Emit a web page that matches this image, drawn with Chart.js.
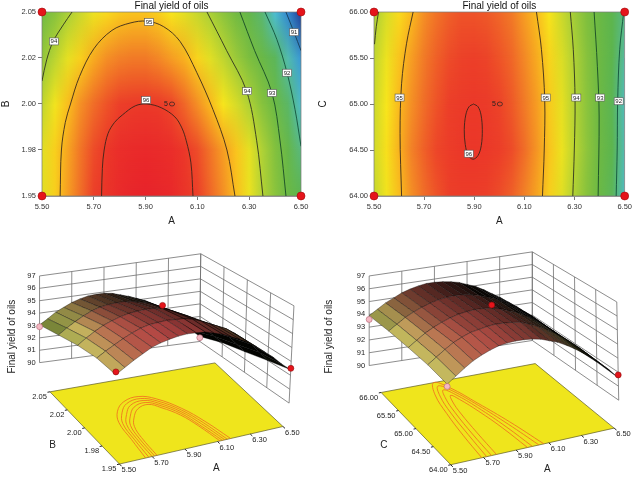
<!DOCTYPE html>
<html>
<head>
<meta charset="utf-8">
<title>Final yield of oils</title>
<script src="https://cdn.jsdelivr.net/npm/chart.js@4.4.1/dist/chart.umd.min.js"></script>
<style>
  html, body { margin: 0; padding: 0; background: #fff; }
  #fig { position: relative; width: 634px; height: 478px; overflow: hidden; }
  #fig canvas { position: absolute; }
</style>
</head>
<body>
<div id="fig">
  <canvas id="contour-ab" width="317" height="228" style="left:0;top:0"></canvas>
  <canvas id="contour-ac" width="317" height="228" style="left:317px;top:0"></canvas>
  <canvas id="surface-ab" width="317" height="250" style="left:0;top:228px"></canvas>
  <canvas id="surface-ac" width="317" height="250" style="left:317px;top:228px"></canvas>
</div>
<script>
const FONT = '"Liberation Sans", Arial, Helvetica, sans-serif';
const TITLE = 'Final yield of oils';

// factor levels
const A_VALUES = [5.50, 5.55, 5.60, 5.65, 5.70, 5.75, 5.80, 5.85, 5.90, 5.95, 6.00,
                  6.05, 6.10, 6.15, 6.20, 6.25, 6.30, 6.35, 6.40, 6.45, 6.50];
const A_TICKS = [5.5, 5.7, 5.9, 6.1, 6.3, 6.5];
const A_TICK_LABELS = ['5.50', '5.70', '5.90', '6.10', '6.30', '6.50'];
const B_VALUES = [1.95, 1.975, 2.0, 2.025, 2.05];
const B_TICK_LABELS = ['1.95', '1.98', '2.00', '2.02', '2.05'];
const C_VALUES = [64.0, 64.5, 65.0, 65.5, 66.0];
const C_TICK_LABELS = ['64.00', '64.50', '65.00', '65.50', '66.00'];
const Z_TICKS = [90, 91, 92, 93, 94, 95, 96, 97];

// predicted yield, one row per B level
const YIELD_AB = [
  [94.4, 94.8, 95.2, 95.55, 95.9, 96.1, 96.25, 96.35, 96.4, 96.35, 96.3, 96.1, 95.9, 95.6, 95.3, 94.95, 94.5, 94.0, 93.5, 92.9, 92.4],
  [94.4, 94.8, 95.15, 95.5, 95.8, 96.05, 96.2, 96.25, 96.3, 96.25, 96.2, 96.05, 95.8, 95.5, 95.2, 94.9, 94.45, 93.95, 93.4, 92.7, 92.0],
  [94.1, 94.55, 94.95, 95.3, 95.55, 95.75, 95.9, 95.97, 96.0, 95.97, 95.85, 95.6, 95.3, 95.0, 94.6, 94.3, 93.95, 93.45, 92.9, 92.2, 91.55],
  [93.6, 94.05, 94.45, 94.8, 95.1, 95.3, 95.4, 95.45, 95.45, 95.35, 95.2, 95.05, 94.75, 94.4, 94.1, 93.7, 93.3, 92.85, 92.3, 91.7, 91.1],
  [93.05, 93.45, 93.9, 94.2, 94.5, 94.7, 94.85, 94.9, 94.9, 94.8, 94.6, 94.4, 94.15, 93.9, 93.5, 93.1, 92.6, 92.1, 91.5, 90.95, 90.4]
];
// predicted yield, one row per C level
const YIELD_AC = [
  [94.15, 94.55, 94.95, 95.3, 95.55, 95.75, 95.9, 95.95, 95.95, 95.9, 95.8, 95.65, 95.4, 95.15, 94.8, 94.4, 93.95, 93.45, 92.9, 92.3, 91.6],
  [94.25, 94.65, 95.05, 95.4, 95.65, 95.85, 95.93, 96.02, 96.05, 96.0, 95.92, 95.8, 95.55, 95.25, 94.9, 94.5, 94.05, 93.55, 93.0, 92.4, 91.7],
  [94.2, 94.6, 95.0, 95.3, 95.55, 95.75, 95.9, 95.98, 96.0, 95.97, 95.87, 95.7, 95.45, 95.2, 94.85, 94.45, 94.0, 93.5, 92.95, 92.35, 91.65],
  [94.1, 94.5, 94.9, 95.2, 95.45, 95.65, 95.8, 95.88, 95.9, 95.86, 95.75, 95.6, 95.35, 95.1, 94.75, 94.35, 93.95, 93.45, 92.95, 92.4, 91.8],
  [93.9, 94.3, 94.7, 95.0, 95.3, 95.5, 95.65, 95.75, 95.75, 95.7, 95.6, 95.45, 95.2, 94.95, 94.6, 94.2, 93.8, 93.35, 92.9, 92.4, 91.95]
];

// contour lines [A, B]
const CONTOUR_AB_96 = [[5.73, 1.95], [5.733, 1.965], [5.74, 1.975], [5.755, 1.984], [5.78, 1.99], [5.81, 1.994], [5.86, 1.999], [5.905, 2.0], [5.96, 1.998], [6.013, 1.993], [6.04, 1.987], [6.057, 1.98], [6.075, 1.968], [6.083, 1.95]];
const CONTOUR_AB_95 = [[5.57, 1.95], [5.575, 1.975], [5.59, 1.99], [5.61, 2.0], [5.645, 2.015], [5.70, 2.03], [5.77, 2.04], [5.84, 2.044], [5.905, 2.045], [5.97, 2.042], [6.033, 2.034], [6.098, 2.017], [6.16, 1.997], [6.214, 1.975], [6.245, 1.95]];
const CONTOUR_AB_94L = [[5.5, 2.0125], [5.518, 2.024], [5.543, 2.034], [5.582, 2.043], [5.616, 2.05]];
const CONTOUR_AB_94R = [[6.137, 2.05], [6.213, 2.029], [6.29, 2.007], [6.329, 1.98], [6.353, 1.95]];
const CONTOUR_AB_93 = [[6.264, 2.05], [6.321, 2.029], [6.388, 2.006], [6.419, 1.98], [6.442, 1.95]];
const CONTOUR_AB_92 = [[6.361, 2.05], [6.407, 2.035], [6.446, 2.017], [6.477, 1.997], [6.5, 1.977]];
const CONTOUR_AB_91 = [[6.442, 2.05], [6.473, 2.039], [6.5, 2.029]];
// contour lines [A, C]
const CONTOUR_AC_96 = [[5.897, 65.0], [5.915, 64.97], [5.927, 64.88], [5.932, 64.72], [5.928, 64.55], [5.915, 64.44], [5.895, 64.4], [5.876, 64.44], [5.864, 64.56], [5.86, 64.72], [5.866, 64.88], [5.879, 64.97], [5.897, 65.0]];
const CONTOUR_AC_95L = [[5.656, 66], [5.63, 65.66], [5.61, 65.22], [5.604, 64.68], [5.61, 64.0]];
const CONTOUR_AC_95R = [[6.148, 66], [6.168, 65.59], [6.181, 65.04], [6.179, 64.5], [6.172, 64.0]];
const CONTOUR_AC_94L = [[5.518, 66], [5.509, 65.84], [5.502, 65.65]];
const CONTOUR_AC_94R = [[6.283, 66], [6.295, 65.59], [6.302, 65.04], [6.299, 64.5], [6.293, 64.0]];
const CONTOUR_AC_93 = [[6.378, 66], [6.391, 65.41], [6.398, 64.87], [6.394, 64.0]];
const CONTOUR_AC_92 = [[6.496, 66], [6.48, 65.59], [6.472, 65.04], [6.47, 64.5], [6.466, 64.0]];

// contour labels [A, B|C, text]
const LABELS_AB = [[5.546, 2.034, '94'], [5.913, 2.0446, '95'], [5.902, 2.0022, '96'], [6.292, 2.007, '94'], [6.388, 2.006, '93'], [6.446, 2.017, '92'], [6.473, 2.039, '91']];
const LABELS_AC = [[5.602, 65.07, '95'], [5.878, 64.46, '96'], [6.185, 65.07, '95'], [6.307, 65.07, '94'], [6.402, 65.07, '93'], [6.476, 65.03, '92']];

// design points
const CORNERS_AB = [[5.5, 1.95], [6.5, 1.95], [5.5, 2.05], [6.5, 2.05]];
const CORNERS_AC = [[5.5, 64], [6.5, 64], [5.5, 66], [6.5, 66]];
const CENTER_AB = [6.0, 2.0];
const CENTER_AC = [6.0, 65.0];
const CENTER_RUNS = 5;
const RUNS_AB = [[5.5, 1.95, 94.6], [6.5, 1.95, 92.5], [5.5, 2.05, 92.9], [6.5, 2.05, 90.3], [6.0, 2.0, 96.1]];
const RUNS_AC = [[5.5, 64, 94.0], [6.5, 64, 91.8], [5.5, 66, 93.6], [6.0, 65, 96.1]];

// contours projected on the floor of the 3D views
const FLOOR_AB_1 = [[5.66, 1.95], [5.68, 1.975], [5.70, 1.998], [5.75, 2.012], [5.83, 2.022], [5.93, 2.025], [6.01, 2.018], [6.09, 2.0], [6.14, 1.978], [6.18, 1.95]];
const FLOOR_AB_2 = [[5.68, 1.95], [5.695, 1.975], [5.715, 1.996], [5.765, 2.009], [5.835, 2.019], [5.93, 2.022], [6.005, 2.015], [6.08, 1.998], [6.125, 1.977], [6.16, 1.95]];
const FLOOR_AB_3 = [[5.70, 1.95], [5.71, 1.975], [5.73, 1.994], [5.78, 2.006], [5.845, 2.016], [5.935, 2.019], [6.0, 2.012], [6.07, 1.996], [6.11, 1.976], [6.145, 1.95]];
const FLOOR_AB_4 = [[5.715, 1.95], [5.725, 1.975], [5.745, 1.992], [5.79, 2.003], [5.855, 2.013], [5.935, 2.016], [5.995, 2.009], [6.06, 1.994], [6.095, 1.975], [6.13, 1.95]];
const FLOOR_AB_5 = [[5.73, 1.95], [5.74, 1.975], [5.76, 1.99], [5.80, 2.0], [5.865, 2.01], [5.94, 2.013], [5.99, 2.006], [6.05, 1.992], [6.085, 1.974], [6.115, 1.95]];
const FLOOR_AC_1 = [[5.69, 64], [5.71, 64.6], [5.74, 65.2], [5.78, 65.7], [5.84, 66.0], [5.90, 65.8], [5.96, 65.3], [6.02, 64.7], [6.07, 64]];
const FLOOR_AC_2 = [[5.72, 64], [5.74, 64.6], [5.765, 65.2], [5.80, 65.65], [5.845, 65.9], [5.895, 65.72], [5.95, 65.25], [6.0, 64.65], [6.04, 64]];
const FLOOR_AC_3 = [[5.75, 64], [5.765, 64.6], [5.79, 65.2], [5.815, 65.55], [5.85, 65.78], [5.89, 65.62], [5.935, 65.2], [5.975, 64.6], [6.0, 64]];
const FLOOR_AC_4 = [[5.78, 64], [5.795, 64.6], [5.815, 65.15], [5.835, 65.45], [5.86, 65.62], [5.885, 65.48], [5.92, 65.1], [5.95, 64.6], [5.97, 64]];

// ---- styling ----
const HEAT_STOPS = [[90.4, '#203c94'], [90.9, '#2f7fcc'], [91.4, '#49bde6'], [91.9, '#58b98a'], [92.4, '#5db54e'],
                    [93.2, '#74bb40'], [93.9, '#a9cf38'], [94.6, '#f7e51c'], [95.0, '#f9b91e'], [95.4, '#f28127'],
                    [95.9, '#ec3f29'], [96.4, '#e8232a']];
const SURF_STOPS = [[92.5, '#5a7a2a'], [93.5, '#8a9a40'], [94.4, '#c8bc60'], [95.0, '#c08858'], [95.6, '#b85a4a'], [96.4, '#b84444']];
const LINE_COLOR = { 96: '#3b2418', 95: '#3b2a1c', 94: '#2f3320', 93: '#164a26', 92: '#12513a', 91: '#163c55' };

// screen corners of the 3D views: [front-left, front-right, back-left, back-right]
const VIEW_AB = {
  top:    [[116, 338], [298, 304], [36, 273], [202, 250]],
  bottom: [[112, 439], [293, 405], [36, 363], [201, 341]],
  floor:  [[118.3, 468.3], [286.7, 429.3], [46.7, 393.3], [216.7, 363.3]]
};
const VIEW_AC = {
  top:    [[448, 341], [621, 300], [366, 273], [534, 248]],
  bottom: [[444, 450], [623, 402], [366, 366], [534, 340]],
  floor:  [[450, 469], [618.3, 431], [378.3, 394], [537, 364]]
};

const hexRgb = h => [1, 3, 5].map(i => parseInt(h.slice(i, i + 2), 16));
const rgb = c => `rgb(${c.map(v => Math.round(Math.max(0, Math.min(255, v)))).join(',')})`;
const clamp = (v, lo, hi) => Math.max(lo, Math.min(hi, v));
function ramp(stops, v) {
  if (v <= stops[0][0]) return hexRgb(stops[0][1]);
  for (let i = 1; i < stops.length; i++) {
    if (v <= stops[i][0]) {
      const t = (v - stops[i - 1][0]) / (stops[i][0] - stops[i - 1][0]);
      const a = hexRgb(stops[i - 1][1]), b = hexRgb(stops[i][1]);
      return a.map((c, k) => c + (b[k] - c) * t);
    }
  }
  return hexRgb(stops[stops.length - 1][1]);
}
const pts = arr => arr.map(p => ({ x: p[0], y: p[1] }));

// smooth colour field behind the contour lines
const heatmapPlugin = {
  id: 'heatmap',
  beforeDatasetsDraw(chart, args, opts) {
    const { ctx, chartArea: ca, scales: { x, y } } = chart;
    const xs = A_VALUES, ys = opts.rows, grid = opts.grid;
    const x0 = x.getPixelForValue(xs[0]), x1 = x.getPixelForValue(xs[xs.length - 1]);
    const w = x1 - x0;
    const dpr = chart.currentDevicePixelRatio || 1;
    const rowFill = (c, j, shift) => {
      const g = c.createLinearGradient(x0 - shift, 0, x1 - shift, 0);
      xs.forEach((a, i) => g.addColorStop((x.getPixelForValue(a) - x0) / w, rgb(ramp(HEAT_STOPS, grid[j][i]))));
      return g;
    };
    ctx.save();
    ctx.beginPath(); ctx.rect(ca.left, ca.top, ca.width, ca.height); ctx.clip();
    for (let j = 0; j < ys.length - 1; j++) {
      const yLo = y.getPixelForValue(ys[j]);
      const yHi = y.getPixelForValue(ys[j + 1]);
      const top = Math.floor(yHi), h = Math.ceil(yLo) - top;
      ctx.fillStyle = rowFill(ctx, j, 0);
      ctx.fillRect(x0, top, w, h);
      const off = document.createElement('canvas');
      off.width = Math.ceil(w * dpr); off.height = Math.ceil(h * dpr);
      const oc = off.getContext('2d');
      oc.scale(dpr, dpr);
      oc.fillStyle = rowFill(oc, j + 1, x0);
      oc.fillRect(0, 0, w, h);
      oc.globalCompositeOperation = 'destination-in';
      const m = oc.createLinearGradient(0, yLo - top, 0, yHi - top);
      m.addColorStop(0, 'rgba(0,0,0,0)');
      m.addColorStop(1, 'rgba(0,0,0,1)');
      oc.fillStyle = m; oc.fillRect(0, 0, w, h);
      ctx.drawImage(off, x0, top, w, h);
    }
    ctx.restore();
    ctx.save();
    ctx.strokeStyle = '#7a7a7a'; ctx.lineWidth = 0.7;
    ctx.strokeRect(ca.left, ca.top, ca.width, ca.height);
    ctx.restore();
  }
};

// boxed contour labels and the centre-point marker
const contourLabelPlugin = {
  id: 'contourLabels',
  afterDatasetsDraw(chart, args, opts) {
    const { ctx, scales: { x, y } } = chart;
    ctx.save();
    ctx.font = `6px ${FONT}`;
    ctx.textAlign = 'center'; ctx.textBaseline = 'middle';
    opts.labels.forEach(([a, b, t]) => {
      const px = x.getPixelForValue(a), py = y.getPixelForValue(b);
      ctx.fillStyle = '#fff'; ctx.fillRect(px - 4.5, py - 3.5, 9, 7);
      ctx.strokeStyle = '#555'; ctx.lineWidth = 0.6; ctx.strokeRect(px - 4.5, py - 3.5, 9, 7);
      ctx.fillStyle = '#222'; ctx.fillText(t, px, py + 0.3);
    });
    const cx = x.getPixelForValue(opts.center[0]), cy = y.getPixelForValue(opts.center[1]);
    ctx.font = `7px ${FONT}`; ctx.fillStyle = '#222';
    ctx.fillText(String(CENTER_RUNS), cx - 5.5, cy);
    ctx.beginPath(); ctx.ellipse(cx + 0.5, cy, 2.6, 2, 0, 0, Math.PI * 2);
    ctx.strokeStyle = '#222'; ctx.lineWidth = 0.7; ctx.stroke();
    ctx.restore();
  }
};

function contourChart(id, cfg) {
  const datasets = [{
    data: pts(cfg.corners), pointRadius: 4, pointBackgroundColor: '#e5141b',
    pointBorderColor: '#a00a0a', pointBorderWidth: 0.6, clip: false
  }];
  cfg.contours.forEach(([level, line]) => datasets.push({
    data: pts(line), showLine: true, pointRadius: 0, borderColor: LINE_COLOR[level],
    borderWidth: 0.9, tension: 0.35, fill: false
  }));
  const tickFont = { family: FONT, size: 7.5 };
  return new Chart(document.getElementById(id), {
    type: 'scatter',
    data: { datasets },
    options: {
      responsive: false, animation: false,
      layout: { padding: { left: 0, right: cfg.padRight, top: 0, bottom: 0 } },
      plugins: {
        legend: { display: false }, tooltip: { enabled: false },
        title: { display: true, text: TITLE, fullSize: false, color: '#111', padding: 0,
                 font: { family: FONT, size: 10, weight: 'normal', lineHeight: 1.2 } },
        heatmap: { rows: cfg.rows, grid: cfg.grid },
        contourLabels: { labels: cfg.labels, center: cfg.center }
      },
      scales: {
        x: {
          type: 'linear', min: 5.5, max: 6.5,
          afterBuildTicks: s => { s.ticks = A_TICKS.map(value => ({ value })); },
          afterFit: s => { s.height = 32; },
          ticks: { callback: (v, i) => A_TICK_LABELS[i], font: tickFont, color: '#333', padding: 2, autoSkip: false, maxRotation: 0 },
          grid: { drawOnChartArea: false, tickLength: 4, color: '#555', lineWidth: 0.8 },
          border: { color: '#777', width: 0.7 },
          title: { display: true, text: 'A', color: '#222', font: { family: FONT, size: 10 }, padding: { top: 0, bottom: 1 } }
        },
        y: {
          type: 'linear', min: cfg.rows[0], max: cfg.rows[cfg.rows.length - 1],
          afterBuildTicks: s => { s.ticks = cfg.rows.map(value => ({ value })); },
          afterFit: s => { s.width = cfg.axisWidth; },
          ticks: { callback: (v, i) => cfg.rowLabels[i], font: tickFont, color: '#333', padding: 2, autoSkip: false },
          grid: { drawOnChartArea: false, tickLength: 4, color: '#555', lineWidth: 0.8 },
          border: { color: '#777', width: 0.7 },
          title: { display: true, text: cfg.rowName, color: '#222', font: { family: FONT, size: 10 }, padding: { top: 0, bottom: 0 } }
        }
      }
    },
    plugins: [heatmapPlugin, contourLabelPlugin]
  });
}

// ---- 3D response surface ----
function bilerp(q, u, v) {
  return [0, 1].map(k => (1 - u) * (1 - v) * q[0][k] + u * (1 - v) * q[1][k] + (1 - u) * v * q[2][k] + u * v * q[3][k]);
}
function projector(view, ar, br) {
  const z0 = Z_TICKS[0], z1 = Z_TICKS[Z_TICKS.length - 1];
  const uv = (a, b) => [(a - ar[0]) / (ar[1] - ar[0]), (b - br[0]) / (br[1] - br[0])];
  return {
    box(a, b, z) {
      const [u, v] = uv(a, b);
      const lo = bilerp(view.bottom, u, v), hi = bilerp(view.top, u, v);
      const w = (z - z0) / (z1 - z0);
      return { x: lo[0] + (hi[0] - lo[0]) * w, y: lo[1] + (hi[1] - lo[1]) * w };
    },
    floor(a, b) {
      const p = bilerp(view.floor, ...uv(a, b));
      return { x: p[0], y: p[1] };
    }
  };
}

function drawSurface(chart, o) {
  const { ctx, scales: { x, y } } = chart;
  const px = p => [x.getPixelForValue(p.x), y.getPixelForValue(p.y)];
  const g = o.grid, av = A_VALUES, bv = o.rows;
  const quads = [];
  for (let j = 0; j < bv.length - 1; j++) {
    for (let i = 0; i < av.length - 1; i++) {
      const z00 = g[j][i], z10 = g[j][i + 1], z01 = g[j + 1][i], z11 = g[j + 1][i + 1];
      quads.push({
        corners: [[av[i], bv[j], z00], [av[i + 1], bv[j], z10], [av[i + 1], bv[j + 1], z11], [av[i], bv[j + 1], z01]],
        depth: o.proj.floor((av[i] + av[i + 1]) / 2, (bv[j] + bv[j + 1]) / 2).y,
        slope: ((z10 + z11) - (z00 + z01)) / 2 / (av[i + 1] - av[i]),
        v: ((bv[j] + bv[j + 1]) / 2 - bv[0]) / (bv[bv.length - 1] - bv[0]),
        zm: (z00 + z10 + z01 + z11) / 4
      });
    }
  }
  quads.sort((p, q) => p.depth - q.depth);
  ctx.save();
  ctx.lineWidth = 0.45; ctx.lineJoin = 'round';
  quads.forEach(q => {
    const c = q.corners.map(k => px(o.proj.box(k[0], k[1], k[2])));
    // lit from the front-left: faces turned away get dark
    const k = clamp(0.88 - 0.6 * q.v + 0.06 * q.slope, 0.03, 0.98);
    ctx.beginPath();
    c.forEach((p, i) => i ? ctx.lineTo(p[0], p[1]) : ctx.moveTo(p[0], p[1]));
    ctx.closePath();
    ctx.fillStyle = rgb(ramp(SURF_STOPS, q.zm).map(v => v * k));
    ctx.fill();
    ctx.strokeStyle = 'rgba(0,0,0,0.75)';
    ctx.stroke();
  });
  ctx.restore();
}

const scenePlugin = {
  id: 'scene',
  beforeDatasetsDraw(chart, args, o) {
    const { ctx, scales: { x, y } } = chart;
    const px = p => [x.getPixelForValue(p.x), y.getPixelForValue(p.y)];
    const pr = o.proj;
    const [a0, a1] = o.ar, [b0, b1] = o.br;
    const z0 = Z_TICKS[0], z1 = Z_TICKS[Z_TICKS.length - 1];
    const seg = (p, q) => { const s = px(p), e = px(q); ctx.moveTo(s[0], s[1]); ctx.lineTo(e[0], e[1]); };
    ctx.save();

    // back and right walls
    ctx.strokeStyle = '#707070'; ctx.lineWidth = 0.8;
    ctx.beginPath();
    A_TICKS.forEach(a => seg(pr.box(a, b1, z0), pr.box(a, b1, z1)));
    o.rows.forEach(b => seg(pr.box(a1, b, z0), pr.box(a1, b, z1)));
    Z_TICKS.forEach(z => { seg(pr.box(a0, b1, z), pr.box(a1, b1, z)); seg(pr.box(a1, b1, z), pr.box(a1, b0, z)); });
    ctx.stroke();

    // z tick labels
    ctx.fillStyle = '#222'; ctx.font = `7.5px ${FONT}`;
    ctx.textAlign = 'right'; ctx.textBaseline = 'middle';
    Z_TICKS.forEach(z => { const p = px(pr.box(a0, b1, z)); ctx.fillText(String(z), p[0] - 4, p[1]); });

    // floor
    const fc = [pr.floor(a0, b0), pr.floor(a1, b0), pr.floor(a1, b1), pr.floor(a0, b1)].map(px);
    ctx.beginPath();
    fc.forEach((p, i) => i ? ctx.lineTo(p[0], p[1]) : ctx.moveTo(p[0], p[1]));
    ctx.closePath();
    ctx.fillStyle = '#efe51c'; ctx.fill();
    ctx.strokeStyle = '#5c5a2a'; ctx.lineWidth = 0.7; ctx.stroke();

    // floor ticks and labels
    ctx.strokeStyle = '#222'; ctx.lineWidth = 1;
    ctx.beginPath();
    A_TICKS.forEach(a => seg(pr.floor(a, b0), pr.floor(a, b0 - 0.03 * (b1 - b0))));
    o.rows.forEach(b => seg(pr.floor(a0, b), pr.floor(a0 - 0.015 * (a1 - a0), b)));
    ctx.stroke();
    ctx.fillStyle = '#222'; ctx.font = `7.5px ${FONT}`; ctx.textBaseline = 'middle';
    ctx.textAlign = 'left';
    A_TICKS.forEach((a, i) => { const p = px(pr.floor(a, b0)); ctx.fillText(A_TICK_LABELS[i], p[0] + 2, p[1] + 6); });
    ctx.textAlign = 'right';
    o.rows.forEach((b, i) => { const p = px(pr.floor(a0, b)); ctx.fillText(o.rowLabels[i], p[0] - 3, p[1] + 5); });

    // axis titles
    ctx.font = `10px ${FONT}`; ctx.textAlign = 'center';
    const fa = px(pr.floor((a0 + a1) / 2, b0));
    ctx.fillText('A', fa[0] + 15, fa[1] + 23);
    const fb = px(pr.floor(a0, (b0 + b1) / 2));
    ctx.fillText(o.rowName, fb[0] - 32, fb[1] + 17);
    ctx.save();
    ctx.translate(x.getPixelForValue(o.left + 8), y.getPixelForValue(336));
    ctx.rotate(-Math.PI / 2);
    ctx.fillText(TITLE, 0, 0);
    ctx.restore();

    ctx.restore();
  },
  beforeDatasetDraw(chart, args, o) {
    if (args.index === 0) drawSurface(chart, o);
  }
};

function surfaceChart(id, cfg) {
  const proj = projector(cfg.view, [A_VALUES[0], A_VALUES[A_VALUES.length - 1]], [cfg.rows[0], cfg.rows[cfg.rows.length - 1]]);
  const predicted = (a, b) => cfg.grid[cfg.rows.indexOf(b)][A_VALUES.indexOf(a)];
  const datasets = [{
    data: cfg.runs.map(r => proj.box(r[0], r[1], r[2])),
    pointRadius: 3,
    pointBackgroundColor: cfg.runs.map(r => r[2] >= predicted(r[0], r[1]) ? '#e5141b' : '#f4b8c2'),
    pointBorderColor: cfg.runs.map(r => r[2] >= predicted(r[0], r[1]) ? '#8a0a0a' : '#b06070'),
    pointBorderWidth: 0.6, clip: false
  }];
  cfg.floorLines.forEach(line => datasets.push({
    data: line.map(p => proj.floor(p[0], p[1])), showLine: true, pointRadius: 0,
    borderColor: '#f0771e', borderWidth: 0.9, tension: 0.4, fill: false, clip: false
  }));
  return new Chart(document.getElementById(id), {
    type: 'scatter',
    data: { datasets },
    options: {
      responsive: false, animation: false,
      layout: { padding: 0 },
      plugins: {
        legend: { display: false }, tooltip: { enabled: false },
        scene: {
          proj, grid: cfg.grid, rows: cfg.rows, rowLabels: cfg.rowLabels, rowName: cfg.rowName, left: cfg.left,
          ar: [A_VALUES[0], A_VALUES[A_VALUES.length - 1]], br: [cfg.rows[0], cfg.rows[cfg.rows.length - 1]]
        }
      },
      scales: {
        x: { type: 'linear', min: cfg.left, max: cfg.left + 317, display: false },
        y: { type: 'linear', min: 228, max: 478, reverse: true, display: false }
      }
    },
    plugins: [scenePlugin]
  });
}

contourChart('contour-ab', {
  rows: B_VALUES, rowLabels: B_TICK_LABELS, rowName: 'B', grid: YIELD_AB,
  axisWidth: 42, padRight: 16,
  corners: CORNERS_AB, center: CENTER_AB, labels: LABELS_AB,
  contours: [[96, CONTOUR_AB_96], [95, CONTOUR_AB_95], [94, CONTOUR_AB_94L], [94, CONTOUR_AB_94R],
             [93, CONTOUR_AB_93], [92, CONTOUR_AB_92], [91, CONTOUR_AB_91]]
});
contourChart('contour-ac', {
  rows: C_VALUES, rowLabels: C_TICK_LABELS, rowName: 'C', grid: YIELD_AC,
  axisWidth: 57, padRight: 6,
  corners: CORNERS_AC, center: CENTER_AC, labels: LABELS_AC,
  contours: [[96, CONTOUR_AC_96], [95, CONTOUR_AC_95L], [95, CONTOUR_AC_95R], [94, CONTOUR_AC_94L],
             [94, CONTOUR_AC_94R], [93, CONTOUR_AC_93], [92, CONTOUR_AC_92]]
});
surfaceChart('surface-ab', {
  view: VIEW_AB, left: 0, rows: B_VALUES, rowLabels: B_TICK_LABELS, rowName: 'B', grid: YIELD_AB,
  runs: RUNS_AB, floorLines: [FLOOR_AB_1, FLOOR_AB_2, FLOOR_AB_3, FLOOR_AB_4, FLOOR_AB_5]
});
surfaceChart('surface-ac', {
  view: VIEW_AC, left: 317, rows: C_VALUES, rowLabels: C_TICK_LABELS, rowName: 'C', grid: YIELD_AC,
  runs: RUNS_AC, floorLines: [FLOOR_AC_1, FLOOR_AC_2, FLOOR_AC_3, FLOOR_AC_4]
});
</script>
</body>
</html>
